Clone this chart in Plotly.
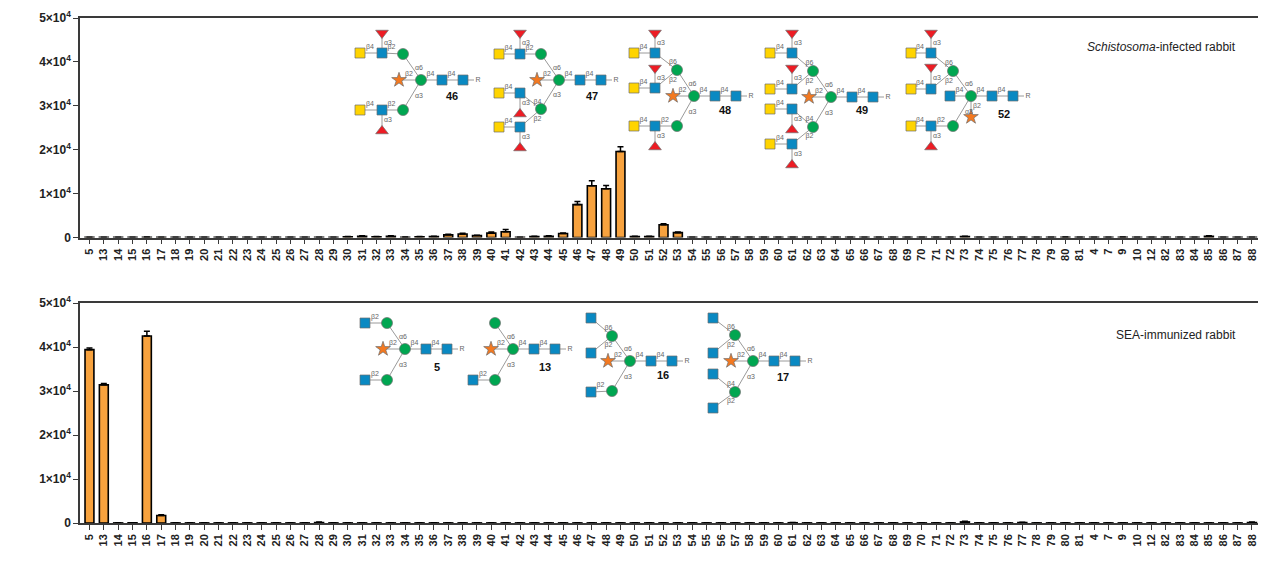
import plotly.graph_objects as go

# ---------------- data ----------------
categories = ['5', '13', '14', '15', '16', '17', '18', '19', '20', '21', '22', '23', '24', '25',
              '26', '27', '28', '29', '30', '31', '32', '33', '34', '35', '36', '37', '38', '39',
              '40', '41', '42', '43', '44', '45', '46', '47', '48', '49', '50', '51', '52', '53',
              '54', '55', '56', '57', '58', '59', '60', '61', '62', '63', '64', '65', '66', '67',
              '68', '69', '70', '71', '72', '73', '74', '75', '76', '77', '78', '79', '80', '81',
              '4', '7', '9', '10', '12', '82', '83', '84', '85', '86', '87', '88']

infected_rfu = [30, 20, 20, 20, 60, 50, 20, 20, 20, 20, 20, 20, 20, 20,
                20, 20, 20, 20, 150, 300, 150, 300, 60, 150, 200, 600, 800, 450,
                1000, 1300, 50, 200, 300, 900, 7500, 11800, 11100, 19600, 200, 200, 2900, 1100,
                20, 20, 20, 20, 20, 20, 20, 20, 20, 20, 20, 20, 20, 20,
                20, 20, 20, 20, 20, 200, 20, 20, 20, 20, 20, 20, 60, 20,
                20, 20, 60, 20, 20, 20, 20, 20, 300, 20, 20, 20]
infected_err = [10, 10, 10, 10, 30, 20, 10, 10, 10, 10, 10, 10, 10, 10,
                10, 10, 10, 10, 60, 80, 60, 80, 30, 60, 60, 120, 150, 80,
                250, 500, 30, 60, 80, 150, 700, 1100, 750, 1100, 60, 60, 250, 150,
                10, 10, 10, 10, 10, 10, 10, 10, 10, 10, 10, 10, 10, 10,
                10, 10, 10, 10, 10, 80, 10, 10, 10, 10, 10, 10, 40, 10,
                10, 10, 40, 10, 10, 10, 10, 10, 120, 10, 10, 10]

immunized_rfu = [39400, 31400, 20, 50, 42500, 1700, 20, 20, 20, 20, 20, 20, 20, 20,
                 20, 20, 100, 20, 20, 20, 20, 20, 20, 20, 20, 20, 20, 20,
                 20, 20, 20, 20, 20, 20, 20, 20, 20, 20, 20, 20, 20, 20,
                 20, 20, 20, 20, 20, 20, 20, 60, 20, 20, 20, 20, 20, 20,
                 20, 20, 20, 20, 20, 250, 20, 20, 20, 100, 20, 20, 20, 20,
                 20, 20, 20, 20, 20, 20, 20, 20, 20, 20, 20, 100]
immunized_err = [400, 300, 10, 10, 1100, 200, 10, 10, 10, 10, 10, 10, 10, 10,
                 10, 10, 120, 10, 10, 10, 10, 10, 10, 10, 10, 10, 10, 10,
                 10, 10, 10, 10, 10, 10, 10, 10, 10, 10, 10, 10, 10, 10,
                 10, 10, 10, 10, 10, 10, 10, 80, 10, 10, 10, 10, 10, 10,
                 10, 10, 10, 10, 10, 150, 10, 10, 10, 80, 10, 10, 10, 10,
                 10, 10, 10, 10, 10, 10, 10, 10, 10, 10, 10, 150]

y_tickvals = [0, 10000, 20000, 30000, 40000, 50000]
y_ticktext = ['0', '1×10<sup>4</sup>', '2×10<sup>4</sup>', '3×10<sup>4</sup>',
              '4×10<sup>4</sup>', '5×10<sup>4</sup>']

# ---------------- figure geometry ----------------
# the page places the figure 8 px from the top-left corner of the window
OFF = 8
W, H = 1266 - OFF, 566 - OFF
PX0, PX1 = 80, 1261          # plot area in window pixels
PY0, PY1 = 18, 523
ML, MR = PX0 - OFF, W - (PX1 - OFF)
MT, MB = PY0 - OFF, H - (PY1 - OFF)
plot_h = PY1 - PY0
top_dom = [(PY1 - 237.5) / plot_h, 1.0]
bot_dom = [0.0, (PY1 - 303) / plot_h]

BAR_FILL = '#F7A23E'
AXC = '#3a3a3a'
FONT = 'Arial, Liberation Sans, Helvetica, sans-serif'

fig = go.Figure()


def add_bars(vals, errs, xa, ya):
    fig.add_trace(go.Bar(
        x=categories, y=vals, xaxis=xa, yaxis=ya, width=0.62,
        marker=dict(color=BAR_FILL, line=dict(color='black', width=1.6)),
        error_y=dict(type='data', array=errs, arrayminus=[0] * len(errs), symmetric=False,
                     color='black', thickness=1.5, width=3),
        showlegend=False, hoverinfo='x+y'))


add_bars(infected_rfu, infected_err, 'x', 'y')
add_bars(immunized_rfu, immunized_err, 'x2', 'y2')

xcommon = dict(type='category', categoryorder='array', categoryarray=categories,
               range=[-0.66, 81.63], showline=True, linecolor=AXC, linewidth=1.5, mirror=True,
               ticks='outside', ticklen=5, tickwidth=1.2, tickcolor=AXC, tickangle=-90,
               tickfont=dict(family=FONT, size=11, color='#222', weight='bold'),
               showgrid=False, zeroline=False, fixedrange=True, automargin=False)
ycommon = dict(range=[0, 50000], tickvals=y_tickvals, ticktext=y_ticktext,
               showline=True, linecolor=AXC, linewidth=1.5, mirror=True,
               ticks='outside', ticklen=5, tickwidth=1.2, tickcolor=AXC,
               tickfont=dict(family=FONT, size=12, color='#222', weight='bold'),
               showgrid=False, zeroline=False, fixedrange=True, automargin=False)

fig.update_layout(
    xaxis=dict(domain=[0, 1], anchor='y', **xcommon),
    yaxis=dict(domain=top_dom, anchor='x', **ycommon),
    xaxis2=dict(domain=[0, 1], anchor='y2', **xcommon),
    yaxis2=dict(domain=bot_dom, anchor='x2', **ycommon),
    # overlay axis in window-pixel coordinates for the glycan illustrations
    xaxis3=dict(domain=[0, 1], anchor='y3', range=[PX0, PX1], visible=False, fixedrange=True),
    yaxis3=dict(domain=[0, 1], anchor='x3', range=[PY1, PY0], visible=False, fixedrange=True),
)

# ---------------- glycan illustrations ----------------
SYM = {
    'gal': dict(symbol='square', color='#FFD400', size=10),
    'glcnac': dict(symbol='square', color='#0A89C2', size=10),
    'man': dict(symbol='circle', color='#00A651', size=11),
    'fucd': dict(symbol='triangle-down', color='#ED1C24', size=11),
    'fucu': dict(symbol='triangle-up', color='#ED1C24', size=11),
    'xyl': dict(symbol='star', color='#F47920', size=11),
}

CORE = [('man', 0, 0, None, ''), ('glcnac', 21, 0, 0, 'β4'), ('glcnac', 42, 0, 1, 'β4')]


def core_plus(extra):
    return CORE + extra


# each node: (type, dx, dy, parent index, link label)
G46 = core_plus([('xyl', -22, 0, 0, 'β2'),
                 ('man', -18, -26, 0, 'α6'), ('glcnac', -39, -27, 4, 'β2'), ('gal', -61, -27, 5, 'β4'),
                 ('fucd', -39, -47, 5, 'α3'),
                 ('man', -18, 30, 0, 'α3'), ('glcnac', -39, 30, 8, 'β2'), ('gal', -61, 30, 9, 'β4'),
                 ('fucu', -39, 51, 9, 'α3')])
G47 = core_plus([('xyl', -22, 0, 0, 'β2'),
                 ('man', -18, -26, 0, 'α6'), ('glcnac', -39, -26, 4, 'β2'), ('gal', -60, -26, 5, 'β4'),
                 ('fucd', -39, -47, 5, 'α3'),
                 ('man', -18, 29, 0, 'α3'), ('glcnac', -39, 13, 8, 'β4'), ('gal', -60, 13, 9, 'β4'),
                 ('fucu', -39, 34, 9, 'α3'),
                 ('glcnac', -39, 47, 8, 'β2'), ('gal', -60, 47, 12, 'β4'), ('fucu', -39, 68, 12, 'α3')])
G48 = core_plus([('xyl', -21, 0, 0, 'β2'),
                 ('man', -17, -26, 0, 'α6'), ('glcnac', -39, -43, 4, 'β6'), ('gal', -60, -43, 5, 'β4'),
                 ('fucd', -39, -63, 5, 'α3'),
                 ('glcnac', -39, -8, 4, 'β2'), ('gal', -60, -8, 8, 'β4'), ('fucd', -39, -28, 8, 'α3'),
                 ('man', -17, 30, 0, 'α3'), ('glcnac', -39, 30, 11, 'β2'), ('gal', -60, 30, 12, 'β4'),
                 ('fucu', -39, 51, 12, 'α3')])
G49 = core_plus([('xyl', -22, 0, 0, 'β2'),
                 ('man', -18, -26, 0, 'α6'), ('glcnac', -39, -44, 4, 'β6'), ('gal', -61, -44, 5, 'β4'),
                 ('fucd', -39, -64, 5, 'α3'),
                 ('glcnac', -39, -8, 4, 'β2'), ('gal', -61, -8, 8, 'β4'), ('fucd', -39, -29, 8, 'α3'),
                 ('man', -18, 30, 0, 'α3'), ('glcnac', -39, 12, 11, 'β4'), ('gal', -61, 12, 12, 'β4'),
                 ('fucu', -39, 33, 12, 'α3'),
                 ('glcnac', -39, 47, 11, 'β2'), ('gal', -61, 47, 15, 'β4'), ('fucu', -39, 68, 15, 'α3')])
G52 = core_plus([('xyl', 0, 21, 0, 'β2'), ('glcnac', -21, 0, 0, 'β4'),
                 ('man', -18, -25, 0, 'α6'), ('glcnac', -40, -43, 5, 'β6'), ('gal', -60, -43, 6, 'β4'),
                 ('fucd', -40, -63, 6, 'α3'),
                 ('glcnac', -40, -7, 5, 'β2'), ('gal', -60, -7, 9, 'β4'), ('fucd', -40, -29, 9, 'α3'),
                 ('man', -18, 30, 0, 'α3'), ('glcnac', -40, 30, 12, 'β2'), ('gal', -60, 30, 13, 'β4'),
                 ('fucu', -40, 51, 13, 'α3')])
G5 = core_plus([('xyl', -22, 0, 0, 'β2'),
                ('man', -18, -26, 0, 'α6'), ('glcnac', -40, -26, 4, 'β2'),
                ('man', -18, 31, 0, 'α3'), ('glcnac', -40, 31, 6, 'β2')])
G13 = core_plus([('xyl', -22, 0, 0, 'β2'),
                 ('man', -18, -26, 0, 'α6'),
                 ('man', -18, 31, 0, 'α3'), ('glcnac', -40, 31, 5, 'β2')])
G16 = core_plus([('xyl', -22, 0, 0, 'β2'),
                 ('man', -18, -25, 0, 'α6'), ('glcnac', -39, -43, 4, 'β6'), ('glcnac', -39, -8, 4, 'β2'),
                 ('man', -18, 30, 0, 'α3'), ('glcnac', -39, 31, 7, 'β2')])
G17 = core_plus([('xyl', -22, 0, 0, 'β2'),
                 ('man', -18, -26, 0, 'α6'), ('glcnac', -40, -43, 4, 'β6'), ('glcnac', -40, -8, 4, 'β2'),
                 ('man', -18, 31, 0, 'α3'), ('glcnac', -40, 13, 7, 'β4'), ('glcnac', -40, 47, 7, 'β2')])

GLYCANS = [  # (structure, core x, core y, label, label dx, label dy)
    (G46, 421, 80, '46', 31, 16),
    (G47, 559, 80, '47', 33, 16),
    (G48, 694, 96, '48', 31, 14),
    (G49, 831, 97, '49', 31, 13),
    (G52, 971, 96, '52', 33, 18),
    (G5, 405, 349, '5', 32, 18),
    (G13, 513, 349, '13', 32, 18),
    (G16, 630, 361, '16', 33, 14),
    (G17, 753, 361, '17', 30, 16),
]

lx, ly = [], []
tx, ty, tt = [], [], []
pts = {k: ([], []) for k in SYM}
for struct, cx, cy, lab, ldx, ldy in GLYCANS:
    absn = [(cx + dx, cy + dy) for (_, dx, dy, _, _) in struct]
    for i, (typ, dx, dy, par, link) in enumerate(struct):
        x, y = absn[i]
        pts[typ][0].append(x)
        pts[typ][1].append(y)
        if par is not None:
            px, py = absn[par]
            lx += [x, px, None]
            ly += [y, py, None]
            mx, my = (x + px) / 2, (y + py) / 2
            if abs(y - py) < 3:
                tx.append(mx - 1); ty.append(my - 6)
            elif abs(x - px) < 3:
                tx.append(mx + 6); ty.append(my)
            else:
                tx.append(mx + 7); ty.append(my + 1)
            tt.append(link)
    # reducing end "R"
    ex, ey = absn[2]
    lx += [ex, ex + 11, None]
    ly += [ey, ey, None]
    tx.append(ex + 15); ty.append(ey); tt.append('R')

fig.add_trace(go.Scatter(x=lx, y=ly, xaxis='x3', yaxis='y3', mode='lines',
                         line=dict(color='#9a9a9a', width=1), hoverinfo='skip', showlegend=False))
for typ, (xs, ys) in pts.items():
    s = SYM[typ]
    fig.add_trace(go.Scatter(x=xs, y=ys, xaxis='x3', yaxis='y3', mode='markers',
                             marker=dict(symbol=s['symbol'], color=s['color'], size=s['size'],
                                         line=dict(color='#6d6d6d', width=0.7)),
                             hoverinfo='skip', showlegend=False))
fig.add_trace(go.Scatter(x=tx, y=ty, xaxis='x3', yaxis='y3', mode='text', text=tt,
                         textfont=dict(family=FONT, size=7, color='#666'),
                         hoverinfo='skip', showlegend=False))

annotations = []
for struct, cx, cy, lab, ldx, ldy in GLYCANS:
    annotations.append(dict(x=cx + ldx, y=cy + ldy, xref='x3', yref='y3', text='<b>' + lab + '</b>',
                            showarrow=False, font=dict(family=FONT, size=11, color='#111')))

annotations += [
    dict(x=1238, y=47, xref='x3', yref='y3', xanchor='right', showarrow=False,
         text='<i>Schistosoma</i>-infected rabbit', font=dict(family=FONT, size=12, color='#222')),
    dict(x=1238, y=335, xref='x3', yref='y3', xanchor='right', showarrow=False,
         text='SEA-immunized rabbit', font=dict(family=FONT, size=12, color='#222')),
    dict(x=23, y=107, xref='x3', yref='y3', textangle=-90, showarrow=False, text='<b>RFU</b>',
         font=dict(family=FONT, size=11, color='#222')),
    dict(x=23, y=392, xref='x3', yref='y3', textangle=-90, showarrow=False, text='<b>RFU</b>',
         font=dict(family=FONT, size=11, color='#222')),
]

fig.update_layout(
    width=W, height=H,
    margin=dict(l=ML, r=MR, t=MT, b=MB, pad=0),
    paper_bgcolor='white', plot_bgcolor='rgba(0,0,0,0)',
    bargap=0.38, showlegend=False,
    annotations=annotations,
    font=dict(family=FONT),
)

fig.write_html('out.html')
